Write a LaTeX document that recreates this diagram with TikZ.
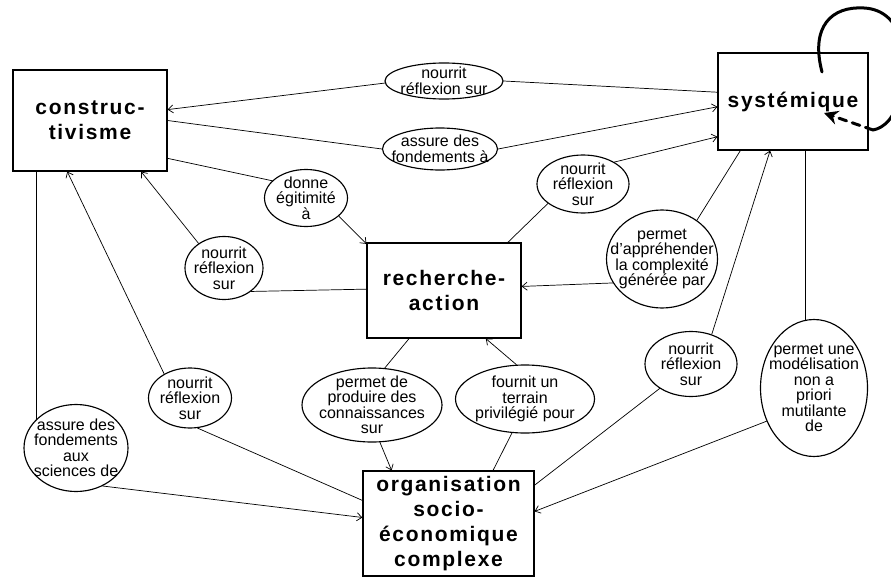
\documentclass[tikz,border=0pt]{standalone}
\usepackage{fontspec}
\setmainfont{Liberation Sans}
\newfontfamily\boxfont[LetterSpace=8]{Liberation Sans}
\usetikzlibrary{arrows.meta, shapes.geometric}

\begin{document}
\begin{tikzpicture}[%
        x = 1pt, y = -1pt,
        > = {Straight Barb[length=5pt, width=8pt]},
        line width = 0.25mm,
        line cap = round,
        boite/.style = {draw, line width = 0.4mm, inner sep = 0pt, align = center,
            font = \boxfont\bfseries\fontsize{21}{25}\selectfont},
        bulle/.style = {draw, ellipse, line width = 0.4mm, inner sep = -15pt, align = center,
            font = {\fontsize{16}{15.5}\selectfont\lineskiplimit -20pt}}
    ]

        \useasboundingbox (0, 0) rectangle (891, 578);

        % The four boxes.
        \node[boite, minimum width = 154pt, minimum height = 101pt] (constr) at (90, 120.5) {construc-\\tivisme};
        \node[boite, minimum width = 150pt, minimum height = 97pt] (syst) at (793, 101.5) {systémique};
        \node[boite, minimum width = 154pt, minimum height = 95pt] (rech) at (444, 290.5) {recherche-\\action};
        \node[boite, minimum width = 171pt, minimum height = 105pt] (org) at (448.5, 523.5) {organisation\\socio-\\économique\\complexe};

        % The relations.
        \node[bulle, minimum width = 118pt, minimum height = 36pt] (nourrit1) at (444, 81) {nourrit\\réflexion sur};
        \node[bulle, minimum width = 115pt, minimum height = 42pt] (assure1) at (440, 149) {assure des\\fondements à};
        \node[bulle, minimum width = 83pt, minimum height = 57pt] (legitim) at (306, 198) {donne\\égitimité\\à};
        \node[bulle, minimum width = 78pt, minimum height = 63pt] (nourrit2) at (224, 268) {nourrit\\réflexion\\sur};
        \node[bulle, minimum width = 92pt, minimum height = 58pt] (nourrit4) at (583, 184) {nourrit\\réflexion\\sur};
        \node[bulle, minimum width = 111pt, minimum height = 98pt] (apprehend) at (662, 259) {permet\\d'appréhender\\la complexité\\générée par};
        \node[bulle, minimum width = 83pt, minimum height = 60pt] (nourrit3) at (190, 398) {nourrit\\réflexion\\sur};
        \node[bulle, minimum width = 104pt, minimum height = 87pt] (assure2) at (76, 448) {assure des\\fondements\\aux\\sciences de};
        \node[bulle, minimum width = 140pt, minimum height = 74pt] (produire) at (372, 405) {permet de\\produire des\\connaissances\\sur};
        \node[bulle, minimum width = 139pt, minimum height = 68pt] (terrain) at (525, 399) {fournit un\\terrain\\privilégié pour};
        \node[bulle, minimum width = 92pt, minimum height = 65pt] (nourrit5) at (691, 364) {nourrit\\réflexion\\sur};
        \node[bulle, minimum width = 107pt, minimum height = 137pt] (modelis) at (814, 388) {permet une\\modélisation\\non a\\priori\\mutilante\\de};

        % Connectors.
        \draw (syst.173) -- (nourrit1.0);
        \draw[->] (nourrit1.182) -- (constr.8);
        \draw (constr.0) -- (assure1.180);
        \draw[->] (assure1.0) -- (syst.184);
        \draw (constr.-26) -- (legitim.153);
        \draw[->] (legitim.-29) -- (rech.149);
        \draw (rech.179) -- (nourrit2.-41);
        \draw[->] (nourrit2.136) -- (constr.-45);
        \draw (org.165) -- (nourrit3.-76);
        \draw[->] (nourrit3.137) -- (constr.-114);
        \draw (assure2.144) -- (assure2.144 |- constr.south);
        \draw[->] (assure2.-55) -- (org.176);
        \draw (rech.-126) -- (produire.71);
        \draw[->] (produire.-78) -- (org.137);
        \draw (org.50) -- (terrain.-111);
        \draw[->] (terrain.104) -- (rech.-49);
        \draw (rech.37) -- (nourrit4.-151);
        \draw[->] (nourrit4.35) -- (syst.-155);
        \draw (syst.-137) -- (apprehend.48);
        \draw[->] (apprehend.206) -- (rech.3);
        \draw (org.24) -- (nourrit5.-142);
        \draw[->] (nourrit5.55) -- (syst.-115);
        \draw (modelis.97) -- (modelis.97 |- syst.south);
        \draw[->] (modelis.215) -- (org.8);

        % Loop on systemique.
        \coordinate (boucleA) at (822, 72);
        \coordinate (boucleB) at (873, 130);
        \coordinate (boucleC) at (824, 113);
        \begin{scope}[line width = 3pt]
            \draw (boucleA) .. controls (810, 26) and (832, 6) .. (864, 8)
                .. controls (904, 10) and (910, 60) .. (900, 95)
                .. controls (895, 118) and (884, 128) .. (boucleB);
            \draw[dash pattern = on 8pt off 6pt, -{Stealth[length = 14pt, width = 14pt]}] (boucleB) -- (boucleC);
        \end{scope}
    \end{tikzpicture}
\end{document}
